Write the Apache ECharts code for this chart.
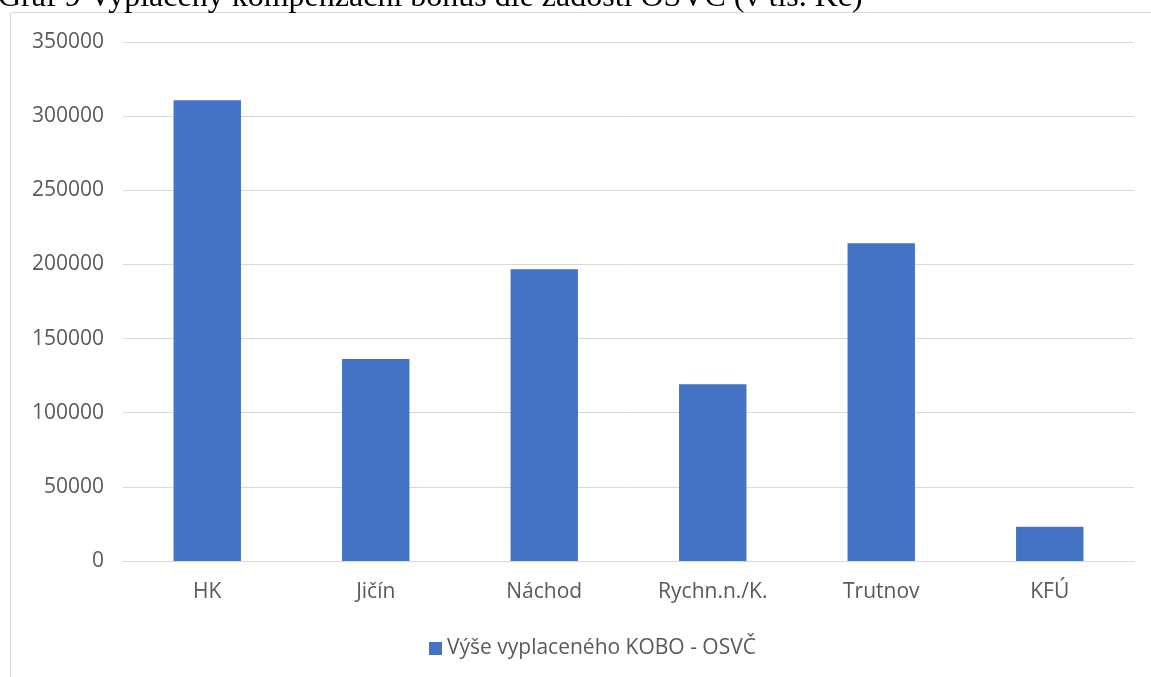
<!DOCTYPE html>
<html>
<head>
<meta charset="utf-8">
<script src="https://cdn.jsdelivr.net/npm/echarts@6/dist/echarts.min.js"></script>
<style>
html,body{margin:0;padding:0;background:#fff;}
#chart{width:1151px;height:677px;}
</style>
</head>
<body>
<div id="chart"></div>
<script>
const titleText = 'Graf 9 Vyplacený kompenzační bonus dle žádostí OSVČ (v tis. Kč)';
const seriesName = 'Výše vyplaceného KOBO - OSVČ';
const categories = ['HK', 'Jičín', 'Náchod', 'Rychn.n./K.', 'Trutnov', 'KFÚ'];
const values = [310700, 136200, 196700, 119200, 214200, 23100];
const yMin = 0, yMax = 350000, yStep = 50000;

const chart = echarts.init(document.getElementById('chart'), null, {renderer: 'canvas'});
chart.setOption({
  animation: false,
  backgroundColor: '#fff',
  title: {
    text: titleText,
    left: -2,
    top: -18,
    padding: 0,
    textStyle: {fontFamily: '"Liberation Serif", "Times New Roman", serif', fontSize: 32, fontWeight: 'normal', color: '#000'}
  },
  graphic: [{
    type: 'rect',
    shape: {x: 10.5, y: 12.5, width: 1160, height: 700},
    style: {fill: 'none', stroke: '#d9d9d9', lineWidth: 1},
    z: -1
  }],
  grid: {left: 123, right: 17, top: 42, bottom: 116, containLabel: false},
  legend: {
    data: [seriesName],
    left: 424, top: 633,
    icon: 'rect', itemWidth: 13, itemHeight: 13, itemGap: 4,
    textStyle: {color: '#595959', fontSize: 21, fontFamily: '"Open Sans", sans-serif'}
  },
  xAxis: {
    type: 'category',
    data: categories,
    axisLine: {lineStyle: {color: '#d9d9d9', width: 1}},
    axisTick: {show: false},
    axisLabel: {color: '#595959', fontSize: 21, margin: 21, fontFamily: '"Open Sans", sans-serif'}
  },
  yAxis: {
    type: 'value',
    min: yMin, max: yMax, interval: yStep,
    axisLine: {show: false},
    axisTick: {show: false},
    splitLine: {lineStyle: {color: '#d9d9d9', width: 1}},
    axisLabel: {color: '#595959', fontSize: 21, margin: 19, fontFamily: '"Open Sans", sans-serif',
      formatter: function (v) { return String(v); }}
  },
  series: [{
    name: seriesName,
    type: 'bar',
    data: values,
    barWidth: '40%',
    itemStyle: {color: '#4472C4'}
  }]
});
</script>
</body>
</html>
